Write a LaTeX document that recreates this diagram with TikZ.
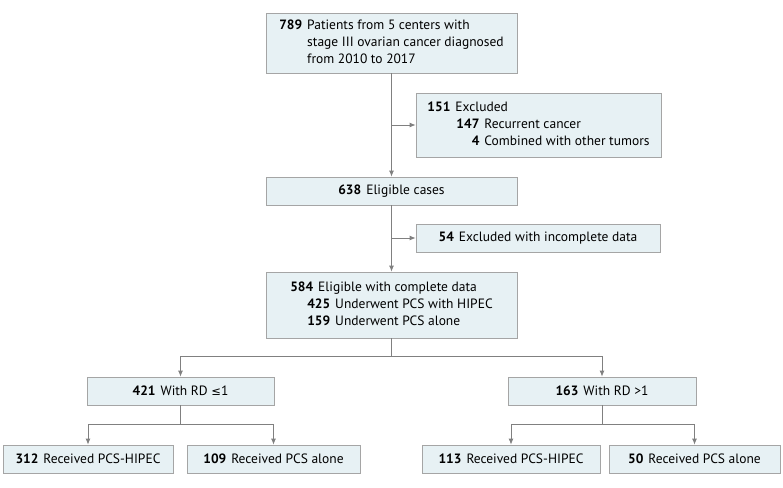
\documentclass[tikz,border=0pt]{standalone}
\usepackage{fontspec}
\setmainfont{PT Sans}
\newfontfamily\symfont{DejaVu Sans}
\usetikzlibrary{arrows.meta}
\definecolor{boxfill}{RGB}{231,241,244}
\definecolor{boxline}{RGB}{165,165,165}
\definecolor{flowline}{RGB}{128,128,128}
\newcommand{\nbr}[1]{\textbf{#1}\hspace{5pt}}

\begin{document}
\begin{tikzpicture}[x=1pt,y=-1pt,
  stage/.style={draw=boxline,fill=boxfill,line width=0.8pt,inner sep=0pt,minimum height=28pt,font=\fontsize{13.5}{17}\selectfont},
  flow/.style={draw=flowline,line width=0.8pt},
  arr/.style={flow,-{Latex[length=6pt,width=5pt]}}]
\useasboundingbox (0,0) rectangle (783,487);
% main column
\node[stage,minimum width=251pt,minimum height=60pt] (pts) at (391.5,43)
  {\begin{tabular}{@{}r@{\hspace{5pt}}l@{}}\textbf{789} & Patients from 5 centers with\\ & stage III ovarian cancer diagnosed\\ & from 2010 to 2017\end{tabular}};
\node[stage,minimum width=251pt] (elig) at (391.5,191) {\nbr{638}Eligible cases};
\node[stage,minimum width=251pt,minimum height=66pt] (compl) at (391.5,305)
  {\begin{tabular}{@{}r@{\hspace{5pt}}l@{}}\textbf{584} & Eligible with complete data\\ & \makebox[12pt][r]{\textbf{425}}\hspace{5pt}Underwent PCS with HIPEC\\ & \makebox[12pt][r]{\textbf{159}}\hspace{5pt}Underwent PCS alone\end{tabular}};
% exclusions
\node[stage,minimum width=245pt,minimum height=64pt] (excl) at (538.5,125)
  {\begin{tabular}{@{}r@{\hspace{5pt}}l@{}}\textbf{151} & Excluded\\ & \makebox[24pt][r]{\textbf{147}}\hspace{5pt}Recurrent cancer\\ & \makebox[24pt][r]{\textbf{4}}\hspace{5pt}Combined with other tumors\end{tabular}};
\node[stage,minimum width=244pt] (incompl) at (538,238) {\nbr{54}Excluded with incomplete data};
% residual disease groups
\node[stage,minimum width=187pt] (rdlow) at (180.5,391) {\nbr{421}With RD {\symfont\fontsize{11.5}{17}\selectfont ≤}1};
\node[stage,minimum width=188pt] (rdhigh) at (602,391) {\nbr{163}With RD >1};
\node[stage,minimum width=170pt] (lowhip) at (88,459) {\nbr{312}Received PCS-HIPEC};
\node[stage,minimum width=173pt] (lowalone) at (273.5,459) {\nbr{109}Received PCS alone};
\node[stage,minimum width=178pt] (highhip) at (511,459) {\nbr{113}Received PCS-HIPEC};
\node[stage,minimum width=171pt] (highalone) at (694.5,459) {\nbr{50}Received PCS alone};
% connectors
\draw[arr] (pts.south) -- (elig.north);
\draw[arr] (pts.south |- excl.west) -- (excl.west);
\draw[arr] (elig.south) -- (compl.north);
\draw[arr] (elig.south |- incompl.west) -- (incompl.west);
\draw[flow] (compl.south) -- ++(0,18) coordinate (rdfork);
\draw[arr] (rdfork) -| (rdlow.north);
\draw[arr] (rdfork) -| (rdhigh.north);
\foreach \p/\a/\b in {rdlow/lowhip/lowalone, rdhigh/highhip/highalone}
{
  \draw[flow] (\p.south) -- ++(0,19) coordinate (\p-fork);
  \draw[arr] (\p-fork) -| (\a.north);
  \draw[arr] (\p-fork) -| (\b.north);
}
\end{tikzpicture}
\end{document}
